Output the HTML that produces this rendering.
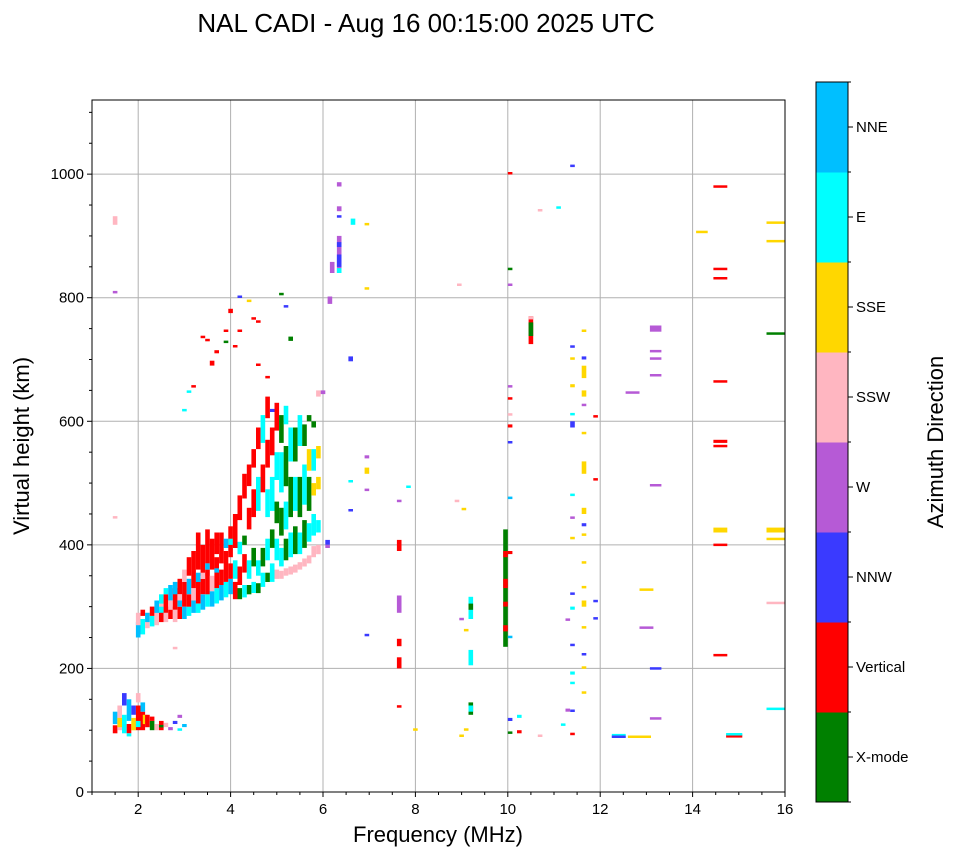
<!DOCTYPE html>
<html><head><meta charset="utf-8">
<style>
html,body{margin:0;padding:0;background:#fff;}
svg{display:block;font-family:"Liberation Sans","DejaVu Sans",sans-serif;}
</style></head>
<body>
<svg id="chart" width="958" height="857" viewBox="0 0 958 857">
<text x="426" y="32" font-size="26" text-anchor="middle">NAL CADI - Aug 16 00:15:00 2025 UTC</text>
<g id="grid"></g>
<g id="marks"></g>
<g id="axes"></g>
<text x="438" y="842" font-size="22" text-anchor="middle">Frequency (MHz)</text>
<text transform="translate(29,446) rotate(-90)" font-size="22" text-anchor="middle">Virtual height (km)</text>
<g id="cbar"></g>
<text transform="translate(943,442) rotate(-90)" font-size="22" text-anchor="middle">Azimuth Direction</text>
</svg>
<script>
const directions = ["X-mode","Vertical","NNW","W","SSW","SSE","E","NNE"];
const dirColors = ["#008000","#ff0000","#3a3aff","#b65ad6","#ffb6c1","#ffd700","#00ffff","#00bfff"];
const xTicks = [2,4,6,8,10,12,14,16];
const yTicks = [0,200,400,600,800,1000];
// runs: [frequency MHz, height from km, height to km, direction index, optional width MHz]
const lowLayer = [
[1.5,95,108,1],[1.5,110,130,7],[1.6,100,140,4],[1.6,105,120,5],[1.7,95,125,6],[1.7,140,160,2],[1.8,95,110,1],[1.8,115,150,7],[1.9,100,120,5],[1.9,125,140,2],[2.0,100,140,1],[2.0,105,115,6],[2.1,100,130,1],[2.1,130,145,7],[2.15,110,125,5],[2.2,105,125,1],[2.3,100,115,0],[2.3,115,122,1],[2.4,100,110,4],[2.5,100,115,1],[2.5,105,108,0],[2.6,105,112,4],[2.7,100,105,3],[2.8,110,115,2],[2.9,100,102,6],[2.9,120,125,3],[3.0,105,110,7],[2.0,145,160,4],[1.8,90,95,6]
];
const fTrace = [
[2.0,250,275,7],[2.0,270,290,4],[2.1,255,280,6],[2.1,285,295,1],[2.2,265,290,4],[2.2,275,290,7],[2.3,268,285,6],[2.3,285,300,1],
[2.4,270,290,4],[2.4,290,310,7],[2.5,275,295,1],[2.5,290,320,6],[2.5,300,305,4],[2.6,275,290,4],[2.6,290,320,1],[2.6,320,330,6],
[2.7,280,300,1],[2.7,295,310,4],[2.7,310,335,7],[2.8,275,295,4],[2.8,295,330,1],[2.8,320,340,7],[2.9,280,300,1],[2.9,300,320,4],[2.9,320,345,1],[2.9,300,310,7],
[3.0,280,300,7],[3.0,300,340,1],[3.0,340,360,4],[3.1,285,300,6],[3.1,300,320,1],[3.1,320,345,7],[3.1,350,380,1],
[3.2,290,310,7],[3.2,310,330,4],[3.2,330,390,1],[3.3,290,305,6],[3.3,305,340,1],[3.3,340,355,7],[3.3,360,420,1],
[3.4,295,320,7],[3.4,320,345,1],[3.4,350,400,1],[3.4,345,355,4],[3.5,300,320,6],[3.5,320,360,1],[3.5,370,425,1],[3.5,360,370,7],
[3.6,300,325,7],[3.6,325,350,4],[3.6,360,410,1],[3.7,305,330,6],[3.7,330,380,1],[3.7,385,420,1],[3.7,355,362,7],
[3.8,310,335,7],[3.8,335,360,1],[3.8,370,420,1],[3.9,315,340,6],[3.9,340,390,1],[3.9,395,410,7],
[4.0,320,345,7],[4.0,345,370,1],[4.0,380,430,1],[4.0,400,410,6],[4.1,312,340,1],[4.1,345,375,6],[4.1,395,450,1],
[4.2,312,330,0],[4.2,335,365,1],[4.2,385,405,6],[4.2,440,480,1],[4.3,315,335,6],[4.3,355,385,1],[4.3,400,415,0],[4.3,475,515,1],
[4.4,320,335,0],[4.4,345,375,6],[4.4,425,460,1],[4.4,495,530,1],[4.5,322,340,6],[4.5,365,395,0],[4.5,445,490,1],[4.5,525,555,1],
[4.6,322,338,0],[4.6,350,375,6],[4.6,455,510,6],[4.6,555,590,1],[4.7,332,355,6],[4.7,365,395,0],[4.7,485,530,1],[4.7,565,610,6],
[4.8,340,355,0],[4.8,375,410,6],[4.8,445,490,6],[4.8,525,570,1],[4.8,605,640,1],[4.9,340,370,6],[4.9,395,425,0],[4.9,455,510,6],[4.9,545,590,1],
[5.0,345,360,4],[5.0,375,410,6],[5.0,435,470,0],[5.0,505,550,6],[5.0,585,630,1],[5.1,345,358,4],[5.1,365,395,6],[5.1,415,460,0],[5.1,485,550,6],[5.1,565,610,0],
[5.2,350,362,4],[5.2,375,410,0],[5.2,425,470,6],[5.2,495,560,0],[5.2,595,625,6],[5.3,352,365,4],[5.3,380,420,6],[5.3,445,510,0],[5.3,535,590,6],
[5.4,355,368,4],[5.4,385,430,0],[5.4,455,510,6],[5.4,535,590,0],[5.5,360,372,4],[5.5,385,420,6],[5.5,445,510,0],[5.5,560,610,6],
[5.6,365,378,4],[5.6,395,440,0],[5.6,465,530,6],[5.6,560,595,0],[5.7,370,383,4],[5.7,405,435,6],[5.7,455,510,0],[5.7,520,555,5],[5.7,600,610,0],
[5.8,380,398,4],[5.8,415,450,6],[5.8,480,500,5],[5.8,520,555,6],[5.8,590,600,0],[5.9,385,400,4],[5.9,420,440,6],[5.9,490,510,5],[5.9,540,560,5],[5.9,640,650,4]
];
const scattered = [
[1.5,918,932,4],[1.5,808,810,3],[1.5,443,446,4],[2.8,232,234,4],
[3.0,617,619,6],[3.1,647,649,6],[3.2,655,658,1],[3.4,735,738,1],[3.5,730,733,1],[3.6,690,698,1],[3.7,710,715,1],[3.9,727,730,0],[3.9,745,748,1],[4.0,775,782,1],[4.1,720,723,1],[4.2,745,748,1],[4.2,800,803,2],[4.4,793,797,5],[4.5,765,768,1],[4.6,690,693,1],[4.6,760,763,1],[5.1,805,807,0],[5.2,785,787,2],[5.3,730,737,0],[4.9,615,620,2],[4.8,670,673,1],
[6.35,840,900,3],[6.35,850,870,2],[6.35,980,987,3],[6.35,940,948,3],[6.35,930,933,2],[6.35,882,890,2],[6.35,840,848,6],[6.65,918,928,6],[6.2,840,858,3],[6.15,790,802,3],[6.6,697,705,2],[6.0,644,650,3],[6.6,502,504,6],[6.6,455,457,2],[6.1,400,408,2],[6.1,395,400,3],
[6.95,918,920,5],[6.95,813,817,5],[6.95,540,545,3],[6.95,515,525,5],[6.95,488,490,3],[6.95,253,255,2],
[7.65,390,408,1],[7.65,470,472,3],[7.65,290,318,3],[7.65,200,218,1],[7.65,236,248,1],[7.65,137,140,1],[7.85,493,495,6],[8.0,100,102,5],
[8.95,820,822,4],[8.9,470,472,4],[9.05,457,459,5],[9.1,260,264,5],[9.2,280,316,6],[9.2,295,305,0],[9.2,205,230,6],[9.2,125,145,0],[9.2,130,140,6],[9.0,90,92,5],[9.1,100,102,5],[9.0,278,282,3],
[9.95,235,425,0],[9.95,330,345,1],[9.95,380,390,1],[9.95,260,270,1],[9.95,300,308,1],
[10.05,1000,1003,1],[10.05,845,848,0],[10.05,820,822,3],[10.05,655,658,3],[10.05,636,638,1],[10.05,610,612,4],[10.05,590,595,1],[10.05,565,567,2],[10.05,475,477,7],[10.05,385,390,1],[10.05,250,252,7],[10.05,115,120,2],[10.05,95,97,0],[10.25,95,100,1],[10.25,120,125,6],
[10.5,725,770,1],[10.5,738,760,0],[10.5,765,770,4],[10.7,940,943,4],[10.7,90,92,4],[11.1,945,947,6],
[11.3,278,280,3],[11.3,130,135,3],[11.4,1012,1015,2],[11.4,720,722,2],[11.4,700,703,5],[11.4,655,660,5],[11.4,610,613,6],[11.4,590,600,2],[11.4,480,482,6],[11.4,443,445,3],[11.4,410,412,5],[11.4,320,322,2],[11.4,295,300,6],[11.4,237,239,2],[11.4,190,195,6],[11.4,175,178,6],[11.4,130,133,2],[11.4,93,95,1],[11.2,108,110,6],
[11.65,745,748,5],[11.65,700,705,2],[11.65,670,690,5],[11.65,640,650,5],[11.65,625,628,3],[11.65,580,582,5],[11.65,515,535,5],[11.65,450,460,5],[11.65,430,435,2],[11.65,415,418,5],[11.65,370,373,5],[11.65,330,333,5],[11.65,300,310,5],[11.65,265,268,5],[11.65,222,224,2],[11.65,200,203,5],[11.65,160,162,5],
[11.9,607,609,1],[11.9,505,507,1],[11.9,308,310,2],[11.9,280,282,2],
[12.4,88,94,6,0.3],[12.4,88,91,2,0.3],[12.7,645,648,3,0.3],[12.85,88,91,5,0.5],[13.0,326,329,5,0.3],[13.0,265,267,3,0.3],
[13.2,745,755,3,0.25],[13.2,712,715,3,0.25],[13.2,700,703,3,0.25],[13.2,673,676,3,0.25],[13.2,495,498,3,0.25],[13.2,198,202,2,0.25],[13.2,118,120,3,0.25],
[14.2,905,908,5,0.25],[14.6,978,982,1,0.3],[14.6,845,848,1,0.3],[14.6,830,833,1,0.3],[14.6,663,666,1,0.3],[14.6,565,570,1,0.3],[14.6,558,562,1,0.3],[14.6,420,428,5,0.3],[14.6,398,402,1,0.3],[14.6,220,223,1,0.3],[14.9,88,93,1,0.35],[14.9,92,95,6,0.35],
[15.8,920,923,5,0.4],[15.8,890,893,5,0.4],[15.8,740,744,0,0.4],[15.8,420,428,5,0.4],[15.8,408,411,5,0.4],[15.8,305,307,4,0.4],[15.8,133,136,6,0.4]
];

const NS="http://www.w3.org/2000/svg";
const X0=92, X1=785, Y0=792, Y1=100;
const xMin=1, xMax=16, yMin=0, yMax=1120;
function xs(f){return X0+(f-xMin)/(xMax-xMin)*(X1-X0);}
function ys(h){return Y0-(h-yMin)/(yMax-yMin)*(Y0-Y1);}
function mk(tag,attrs,parent){const e=document.createElementNS(NS,tag);for(const k in attrs)e.setAttribute(k,attrs[k]);parent.appendChild(e);return e;}

const grid=document.getElementById('grid');
xTicks.forEach(t=>{
  const l=mk('line',{x1:xs(t),x2:xs(t),y1:Y1,y2:Y0,stroke:'#b0b0b0','stroke-width':1},grid);
  
  
});
yTicks.forEach(t=>{
  const l=mk('line',{x1:X0,x2:X1,y1:ys(t),y2:ys(t),stroke:'#b0b0b0','stroke-width':1},grid);
  
  
});

const marks=document.getElementById('marks');
[lowLayer,fTrace,scattered].forEach(set=>{
  set.forEach(r=>{
    const w=(r[4]||0.1);
    const x=xs(r[0]-w/2), x2=xs(r[0]+w/2);
    let yTop=ys(r[2]), yBot=ys(r[1]);
    if(yBot-yTop<2.5){const c=(yTop+yBot)/2;yTop=c-1.25;yBot=c+1.25;}
    const rc=mk('rect',{x:x.toFixed(1),y:yTop.toFixed(1),width:(x2-x).toFixed(1),height:(yBot-yTop).toFixed(1),fill:dirColors[r[3]]},marks);
    
    
  });
});

const axes=document.getElementById('axes');
mk('rect',{x:X0,y:Y1,width:X1-X0,height:Y0-Y1,fill:'none',stroke:'#000','stroke-width':1},axes);
xTicks.forEach(t=>{
  mk('line',{x1:xs(t),x2:xs(t),y1:Y0,y2:Y0+5,stroke:'#000'},axes);
  const tx=mk('text',{x:xs(t),y:Y0+22,'font-size':15,'text-anchor':'middle'},axes);
  tx.textContent=t;
  
  
});
for(let f=1;f<=16;f+=0.5){if(f%2!==0)mk('line',{x1:xs(f),x2:xs(f),y1:Y0,y2:Y0+3,stroke:'#000'},axes);}
yTicks.forEach(t=>{
  mk('line',{x1:X0-5,x2:X0,y1:ys(t),y2:ys(t),stroke:'#000'},axes);
  const tx=mk('text',{x:X0-8,y:ys(t)+5,'font-size':15,'text-anchor':'end'},axes);
  tx.textContent=t;
  
  
});
for(let h=0;h<=1100;h+=50){if(h%200!==0)mk('line',{x1:X0-3,x2:X0,y1:ys(h),y2:ys(h),stroke:'#000'},axes);}

const cb=document.getElementById('cbar');
const CX=816, CW=32, CT=82, CB=802, seg=(CB-CT)/directions.length;
directions.forEach((d,i)=>{
  const yTop=CB-(i+1)*seg;
  const r=mk('rect',{x:CX,y:yTop,width:CW,height:seg+0.5,fill:dirColors[i]},cb);
  
  
  const yc=yTop+seg/2;
  mk('line',{x1:CX+CW,x2:CX+CW+5,y1:yc,y2:yc,stroke:'#000'},cb);
  const tx=mk('text',{x:CX+CW+8,y:yc+5,'font-size':15},cb);
  tx.textContent=d;
  
  
});
for(let i=0;i<=directions.length;i++){const y=CB-i*seg;mk('line',{x1:CX+CW,x2:CX+CW+3,y1:y,y2:y,stroke:'#000'},cb);}
mk('rect',{x:CX,y:CT,width:CW,height:CB-CT,fill:'none',stroke:'#000','stroke-width':1},cb);
</script>
</body></html>
